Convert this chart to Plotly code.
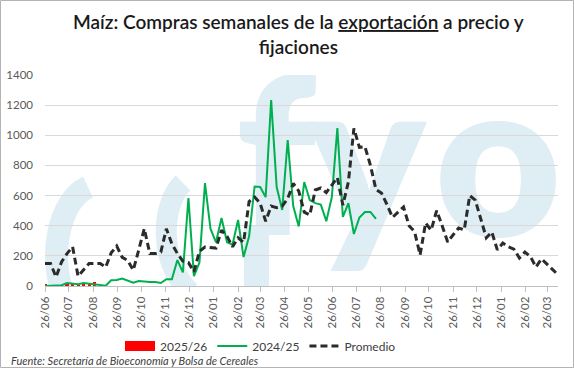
import base64
import plotly.graph_objects as go
import pandas as pd

# ---------------- data (weekly, first week = 26/06) ----------------
start_date = "2024-06-26"

promedio = [150, 150, 60, 160, 215, 260, 65, 110, 150, 150,
            150, 125, 220, 265, 190, 170, 105, 240, 380, 215,
            215, 225, 380, 280, 215, 165, 155, 95, 230, 259,
            255, 252, 370, 330, 260, 320, 290, 560, 590, 550,
            430, 530, 520, 530, 580, 680, 630, 490, 471, 637,
            650, 620, 670, 720, 537, 690, 1045, 920, 925, 800,
            640, 617, 540, 455, 490, 524, 400, 360, 206, 418,
            370, 500, 400, 292, 340, 385, 372, 600, 570, 450,
            320, 358, 240, 285, 260, 245, 186, 225, 195, 126,
            180, 145, 110, 75]

campana_2425 = [0, 0, 0, 5, 20, 18, 12, 20, 15, 10,
                2, 2, 38, 40, 50, 35, 22, 33, 28, 26,
                26, 20, 45, 45, 172, 90, 584, 65, 155, 683,
                380, 290, 451, 290, 275, 438, 192, 330, 660, 657,
                590, 1234, 657, 504, 969, 530, 395, 690, 570, 550,
                540, 430, 590, 1048, 458, 550, 345, 455, 491, 491,
                445]

campana_2526 = [8, 5, 6, 3, 10, 8, 6, 10, 8, 28]

names = ["2025/26", "2024/25", "Promedio"]
y_ticks = [0, 200, 400, 600, 800, 1000, 1200, 1400]
n_month_ticks = 22  # 26/06 ... 26/03

dates_prom = pd.date_range(start_date, periods=len(promedio), freq="7D")
dates_2425 = pd.date_range(start_date, periods=len(campana_2425), freq="7D")
dates_2526 = pd.date_range(start_date, periods=len(campana_2526), freq="7D")
x_ticks = pd.date_range(start_date, periods=n_month_ticks, freq=pd.DateOffset(months=1))
x_ticktext = [d.strftime("%d/%m") for d in x_ticks]

# ---------------- layout helpers (pixels -> paper) ----------------
W, H = 574, 368
L, R, T, B = 45, 558, 75, 286
PW, PH = R - L, B - T


def px(x):
    return (x - L) / PW


def py(y):
    return (B - y) / PH


WM = "#deeef4"
FONT = "Lato"

# background watermark (logo) as an inline SVG image, clipped to plot area
svg = f'''<svg xmlns="http://www.w3.org/2000/svg" width="{W}" height="{H}" viewBox="0 0 {W} {H}">
<defs><clipPath id="c"><rect x="{L}" y="{T}" width="{PW}" height="{PH + 1}"/></clipPath></defs>
<g clip-path="url(#c)">
<path d="M 88 187 C 56 202 50 262 63 292" fill="none" stroke="{WM}" stroke-width="23"/>
<path d="M 183 183 C 161 204 158 262 190 292" fill="none" stroke="{WM}" stroke-width="21"/>
<g fill="{WM}" font-family="Lato" font-weight="800" font-size="218">
<text x="276" y="235" text-anchor="middle">f</text>
<text x="367" y="235" text-anchor="middle">y</text>
<text x="498" y="236" text-anchor="middle">o</text>
</g>
<rect x="244" y="225" width="25" height="70" fill="{WM}"/>
</g>
</svg>'''
wm_src = "data:image/svg+xml;base64," + base64.b64encode(svg.encode("utf-8")).decode()

fig = go.Figure()

fig.add_trace(go.Bar(
    x=dates_2526, y=campana_2526, name=names[0],
    marker=dict(color="#ff0000", line=dict(width=0)),
    width=4 * 86400000, showlegend=False,
))
# legend proxy for the column series (wide red rectangle)
fig.add_trace(go.Scatter(
    x=[None], y=[None], mode="lines", name=names[0],
    line=dict(color="#ff0000", width=11),
))
fig.add_trace(go.Scatter(
    x=dates_2425, y=campana_2425, name=names[1], mode="lines",
    line=dict(color="#00b050", width=2),
))
fig.add_trace(go.Scatter(
    x=dates_prom, y=promedio, name=names[2], mode="lines",
    line=dict(color="#2b2b2b", width=3, dash="7px,4px"),
))

shapes = [
    dict(type="rect", xref="paper", yref="paper",
         x0=px(0.5), x1=px(573.5), y0=py(367.5), y1=py(0.5),
         line=dict(color="#b4b4b4", width=1)),
]

annotations = [
    dict(text="Maíz: Compras semanales de la <u>exportación</u> a precio y<br>fijaciones",
         x=px(298), y=py(8), xref="paper", yref="paper",
         showarrow=False, xanchor="center", yanchor="top", align="center",
         font=dict(family=FONT, size=19, color="#1a1a1a", weight=600)),
    dict(text="Fuente: Secretaría de Bioeconomía y Bolsa de Cereales",
         x=px(9), y=py(360), xref="paper", yref="paper",
         showarrow=False, xanchor="left", yanchor="middle",
         font=dict(family=FONT, size=11, color="#404040", style="italic")),
]

fig.update_layout(
    width=W, height=H,
    margin=dict(l=L, r=W - R, t=T, b=H - B, pad=0, autoexpand=False),
    paper_bgcolor="white", plot_bgcolor="rgba(0,0,0,0)",
    showlegend=True,
    legend=dict(orientation="h", x=px(120), xanchor="left",
                y=py(346), yanchor="middle",
                font=dict(family=FONT, size=12, color="#404040"),
                bgcolor="rgba(0,0,0,0)", traceorder="normal",
                itemwidth=30, tracegroupgap=0),
    shapes=shapes,
    annotations=annotations,
    images=[dict(source=wm_src, xref="paper", yref="paper",
                 x=px(0), y=py(0), sizex=W / PW, sizey=H / PH,
                 xanchor="left", yanchor="top", sizing="stretch",
                 layer="below")],
    bargap=0,
)

fig.update_xaxes(
    type="date", range=[dates_prom[0], dates_prom[-1]],
    tickvals=x_ticks, ticktext=x_ticktext,
    tickangle=-90, ticks="outside", ticklen=5, tickcolor="#bfbfbf",
    showline=True, linecolor="#bfbfbf", linewidth=1,
    showgrid=False, zeroline=False, automargin=False,
    tickfont=dict(family=FONT, size=11.5, color="#595959"),
)
fig.update_yaxes(
    range=[0, 1400], tickvals=y_ticks, ticktext=[str(v) for v in y_ticks],
    showgrid=True, gridcolor="#d9d9d9", gridwidth=1,
    zeroline=False, showline=False, ticks="", automargin=False,
    ticklabelstandoff=11,
    tickfont=dict(family=FONT, size=11.5, color="#595959"),
)

fig.write_html(
    "out.html",
    config={"displayModeBar": False},
    post_script="document.body.style.margin='0px';document.body.style.overflow='hidden';",
)
